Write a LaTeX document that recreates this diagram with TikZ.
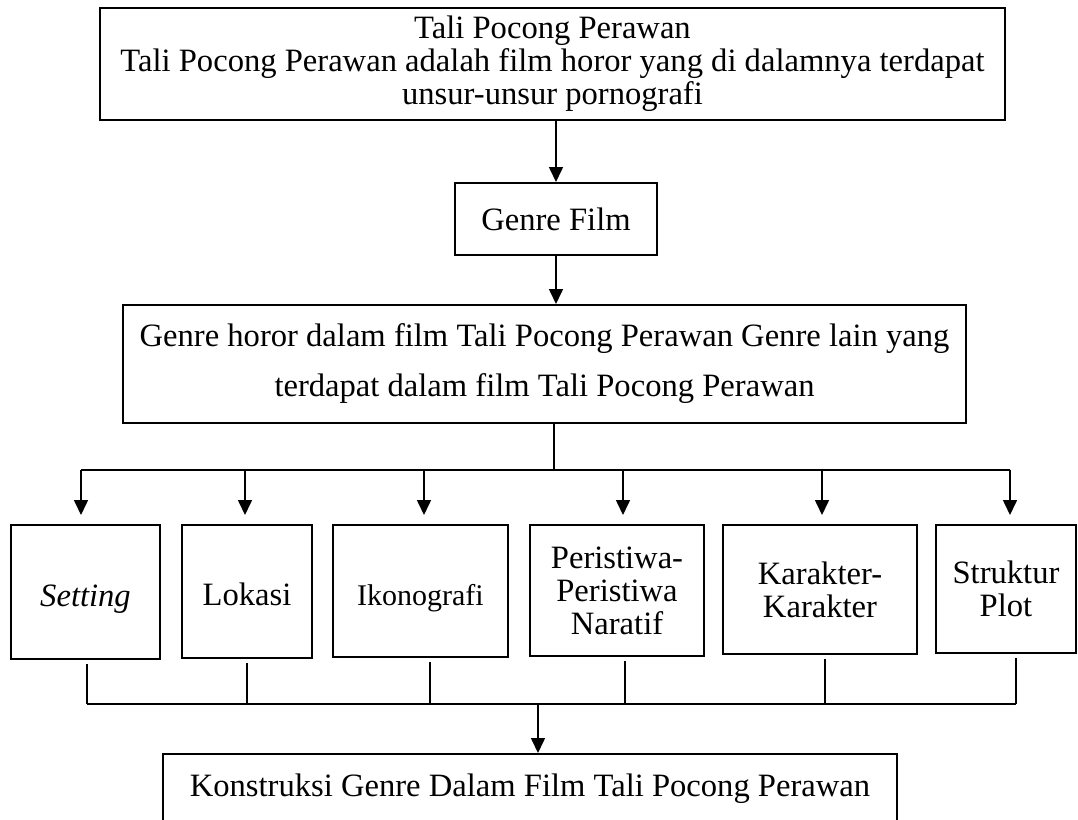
\documentclass[tikz,border=0pt]{standalone}
\usepackage{fontspec}
\setmainfont{Liberation Serif}
\usetikzlibrary{arrows.meta}
\def\px{0.5pt}

\begin{document}
\begin{tikzpicture}[x=\px,y=-\px,
    kotak/.style={draw, line width=1pt, align=center, inner sep=0pt,
      font=\fontsize{16.3}{16.5}\selectfont},
    rendah/.style={text height=14pt, text depth=0pt},
    panah/.style={line width=0.8pt, -{Triangle[width=7pt,length=7.5pt]}},
    garis/.style={line width=0.8pt}]
  \useasboundingbox (0,0) rectangle (1078,820);

  \node[kotak, minimum width=905*\px, minimum height=112*\px] (judul) at (552.5,64)
    {Tali Pocong Perawan\\Tali Pocong Perawan adalah film horor yang di dalamnya terdapat\\unsur-unsur pornografi};
  \node[kotak, minimum width=202*\px, minimum height=72*\px] (genre) at (556,219) {Genre Film};
  \node[kotak, minimum width=843*\px, minimum height=118*\px, font=\fontsize{16.3}{25}\selectfont] (jenis) at (544.5,364)
    {Genre horor dalam film Tali Pocong Perawan Genre lain yang\\terdapat dalam film Tali Pocong Perawan};

  \node[kotak, rendah, minimum width=149*\px, minimum height=134*\px] (setting) at (85.5,592) {\textit{Setting}};
  \node[kotak, rendah, minimum width=130*\px, minimum height=133*\px] (lokasi) at (247,591.5) {Lokasi};
  \node[kotak, rendah, minimum width=175*\px, minimum height=132*\px, font=\fontsize{15}{16.5}\selectfont] (ikono) at (420.5,591) {Ikonografi};
  \node[kotak, minimum width=174*\px, minimum height=131*\px] (peristiwa) at (617,590.5) {Peristiwa-\\Peristiwa\\Naratif};
  \node[kotak, minimum width=194*\px, minimum height=129*\px] (karakter) at (820,589.5) {Karakter-\\Karakter};
  \node[kotak, minimum width=140*\px, minimum height=128*\px] (struktur) at (1006,589) {Struktur\\Plot};

  \node[kotak, minimum width=734*\px, minimum height=70*\px] (konstruksi) at (530,789)
    {Konstruksi Genre Dalam Film Tali Pocong Perawan};

  \draw[panah] (genre.north |- judul.south) -- (genre.north);
  \draw[panah] (genre.south) -- (genre.south |- jenis.north);

  \coordinate (cabang) at (554,470);
  \draw[garis] (cabang |- jenis.south) -- (cabang);
  \draw[garis] (81,470) -- (1010,470);
  \foreach \n/\x in {setting/81, lokasi/245, ikono/424, peristiwa/623, karakter/822, struktur/1010}
    \draw[panah, shorten >=4.5pt] (\x,470) -- (\n.north -| \x,0);

  \coordinate (gabung) at (538,704);
  \foreach \n/\x in {setting/87, lokasi/247, ikono/430, peristiwa/625, karakter/825, struktur/1016}
    \draw[garis, shorten <=2pt] (\n.south -| \x,0) -- (\x,704);
  \draw[garis] (87,704) -- (1016,704);
  \draw[panah] (gabung) -- (gabung |- konstruksi.north);
\end{tikzpicture}
\end{document}
